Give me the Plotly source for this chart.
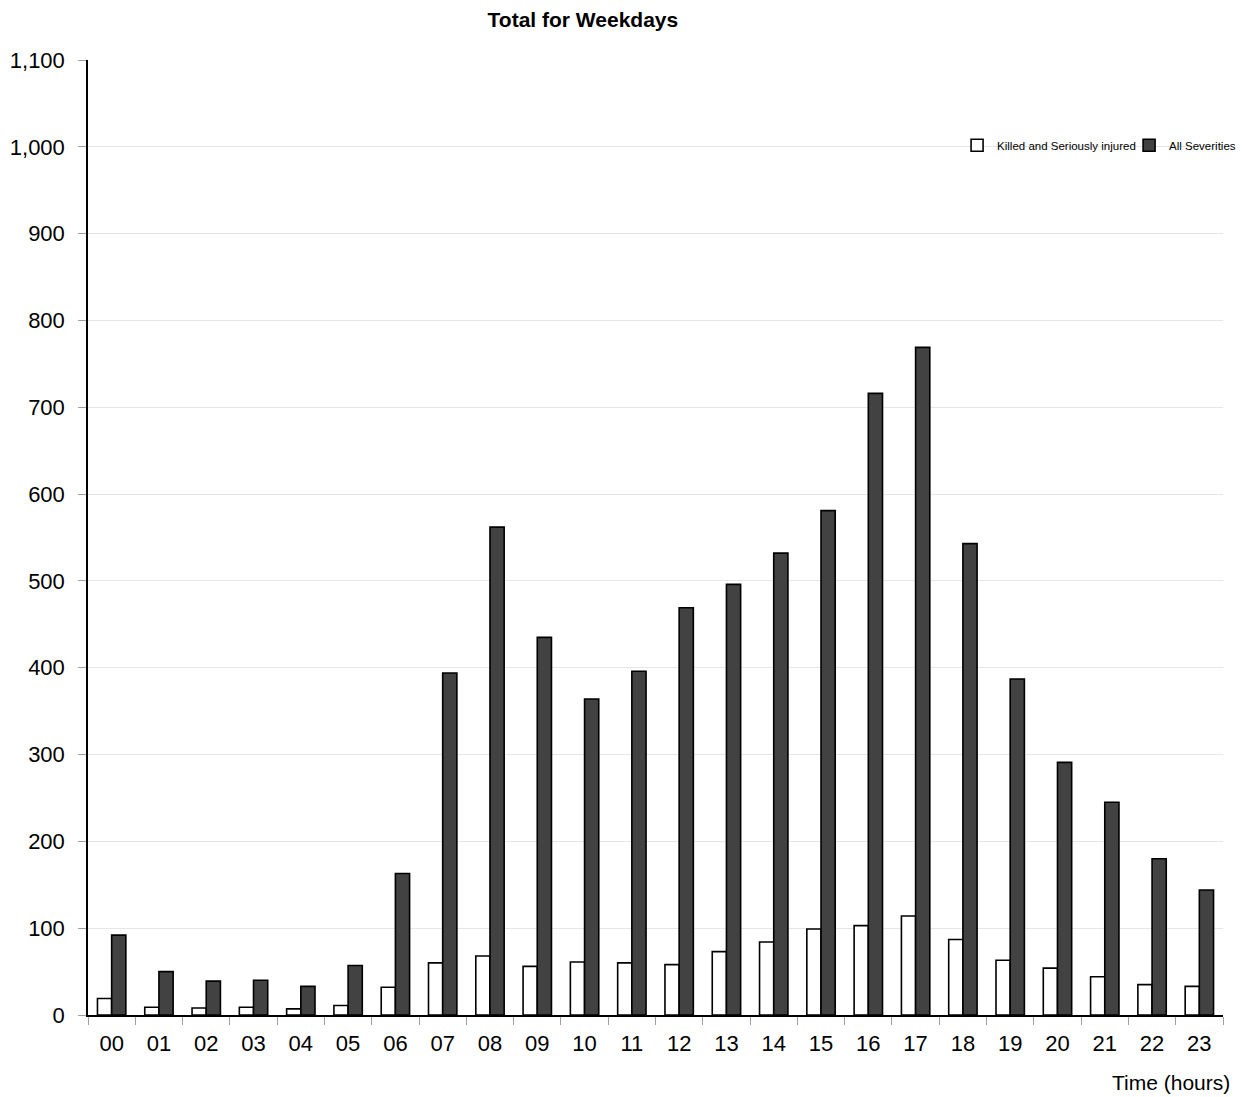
import plotly.graph_objects as go

hours = ["00","01","02","03","04","05","06","07","08","09","10","11",
         "12","13","14","15","16","17","18","19","20","21","22","23"]
ksi = [19, 9, 8, 9, 7, 11, 32, 60, 68, 56, 61, 60,
       58, 73, 84, 99, 103, 114, 87, 63, 54, 44, 35, 33]
all_sev = [92, 50, 39, 40, 33, 57, 163, 394, 562, 435, 364, 396,
           469, 496, 532, 581, 716, 769, 543, 387, 291, 245, 180, 144]

FONT = "Liberation Sans, Arial, sans-serif"

fig = go.Figure()
fig.add_trace(go.Bar(
    x=hours, y=ksi, name="Killed and Seriously injured",
    marker=dict(color="#ffffff", line=dict(color="#000000", width=1.6)),
))
fig.add_trace(go.Bar(
    x=hours, y=all_sev, name="All Severities",
    marker=dict(color="#424242", line=dict(color="#000000", width=1.6)),
))

fig.update_layout(
    width=1239, height=1089,
    margin=dict(l=80, r=24, t=52, b=82, autoexpand=False),
    paper_bgcolor="white", plot_bgcolor="white",
    barmode="group", bargap=0.4, bargroupgap=0,
    font=dict(family=FONT, color="#000000"),
    title=dict(text="<b>Total for Weekdays</b>", x=0.464, xanchor="center",
               y=0.989, yanchor="middle", font=dict(size=21, family=FONT)),
    showlegend=True,
    legend=dict(orientation="h", xref="container", yref="container",
                x=0.766, xanchor="left", y=0.874, yanchor="middle",
                font=dict(size=11.5, family=FONT), bgcolor="rgba(0,0,0,0)",
                itemwidth=30, entrywidth=127, traceorder="normal"),
    xaxis=dict(
        type="category", showline=True, linecolor="#000000", linewidth=1.5,
        ticks="outside", ticklen=8, tickcolor="#a0a0a0", tickwidth=1,
        tickson="boundaries", showgrid=False, ticklabelstandoff=8,
        automargin=False,
        tickfont=dict(size=22, family=FONT),
    ),
    yaxis=dict(
        range=[0, 1100], dtick=100, tickformat=",",
        showline=True, linecolor="#000000", linewidth=1.5,
        ticks="outside", ticklen=8, tickcolor="#a0a0a0", tickwidth=1,
        showgrid=True, gridcolor="#e6e6e6", gridwidth=1,
        zeroline=False, ticklabelstandoff=9, automargin=False,
        tickfont=dict(size=22, family=FONT),
    ),
    annotations=[dict(
        text="Time (hours)", xref="paper", yref="paper",
        x=1.008, xanchor="right", y=-0.0702, yanchor="middle",
        showarrow=False, font=dict(size=21, family=FONT),
    )],
)

fig.write_html("out.html")
